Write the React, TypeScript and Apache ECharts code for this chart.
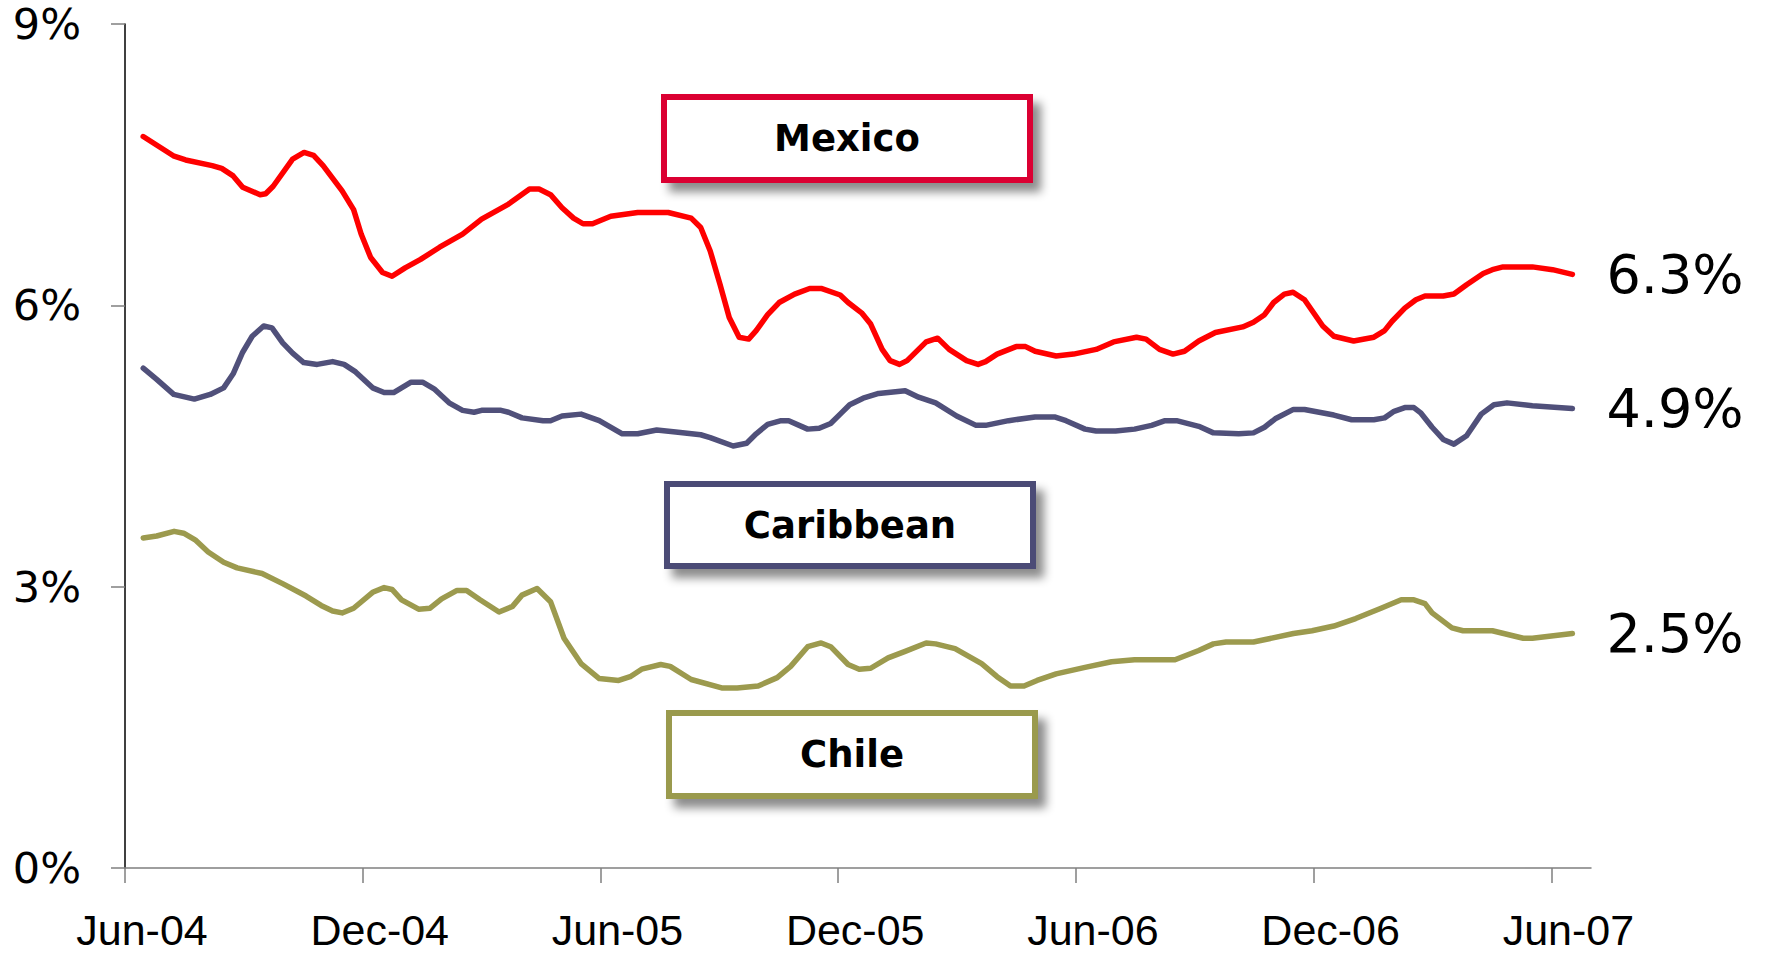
import React, { useEffect, useRef } from "react";
import * as echarts from "echarts";

// x positions are months since Jun-04
const xTickMonths = [0, 6, 12, 18, 24, 30, 36];
const xTickLabels = ["Jun-04", "Dec-04", "Jun-05", "Dec-05", "Jun-06", "Dec-06", "Jun-07"];
const yTicks = [0, 3, 6, 9];

const mexicoX = [0.46,1.24,1.53,2.2,2.44,2.73,2.97,3.41,3.55,3.74,4.23,4.52,4.76,5.0,5.48,5.77,5.96,6.2,6.5,6.74,7.07,7.46,7.94,8.52,9.0,9.68,10.21,10.45,10.74,11.03,11.32,11.56,11.8,12.26,12.94,13.71,14.29,14.53,14.77,15.02,15.25,15.5,15.74,15.93,16.22,16.51,16.9,17.28,17.57,18.05,18.25,18.59,18.82,19.11,19.31,19.55,19.74,20.22,20.51,20.8,21.24,21.53,21.72,22.01,22.49,22.73,22.97,23.5,23.94,24.51,24.95,25.53,25.77,26.11,26.45,26.74,27.1,27.52,28.21,28.48,28.76,28.99,29.26,29.48,29.77,30.23,30.51,31.01,31.52,31.79,31.98,32.3,32.58,32.81,33.27,33.54,33.86,34.28,34.51,34.78,35.52,36.03,36.53];
const mexicoY = [7.8,7.59,7.55,7.49,7.46,7.38,7.26,7.18,7.19,7.27,7.56,7.63,7.6,7.49,7.22,7.02,6.76,6.51,6.35,6.31,6.4,6.49,6.62,6.76,6.92,7.08,7.24,7.24,7.18,7.04,6.93,6.87,6.87,6.95,6.99,6.99,6.93,6.83,6.58,6.22,5.87,5.66,5.64,5.73,5.9,6.03,6.12,6.18,6.18,6.11,6.03,5.92,5.8,5.53,5.41,5.37,5.41,5.61,5.65,5.53,5.41,5.37,5.4,5.48,5.56,5.56,5.51,5.46,5.48,5.53,5.61,5.66,5.64,5.53,5.48,5.51,5.62,5.71,5.77,5.82,5.9,6.03,6.12,6.14,6.06,5.78,5.67,5.62,5.66,5.73,5.83,5.97,6.06,6.1,6.1,6.12,6.22,6.34,6.38,6.41,6.41,6.38,6.33];

const caribbeanX = [0.46,0.8,1.23,1.75,2.15,2.49,2.73,2.97,3.21,3.5,3.71,3.98,4.23,4.51,4.85,5.24,5.53,5.82,6.25,6.54,6.78,7.22,7.51,7.8,8.18,8.52,8.81,9.0,9.49,9.68,10.02,10.55,10.74,11.03,11.51,11.97,12.55,12.94,13.42,13.9,14.53,14.77,15.35,15.69,15.93,16.22,16.56,16.75,17.23,17.52,17.81,18.05,18.29,18.63,19.02,19.69,20.03,20.46,20.99,21.48,21.72,22.3,22.97,23.46,23.75,24.23,24.51,25.0,25.48,25.91,26.25,26.54,27.1,27.47,28.11,28.48,28.76,29.03,29.49,29.77,30.51,30.96,31.52,31.79,32.03,32.3,32.53,32.71,32.99,33.27,33.54,33.86,34.23,34.55,34.88,35.52,36.53];
const caribbeanY = [5.33,5.21,5.05,5.0,5.05,5.12,5.27,5.5,5.67,5.78,5.76,5.6,5.49,5.39,5.37,5.4,5.37,5.29,5.12,5.07,5.07,5.18,5.18,5.11,4.96,4.88,4.86,4.88,4.88,4.86,4.8,4.77,4.77,4.82,4.84,4.77,4.63,4.63,4.67,4.65,4.62,4.59,4.5,4.53,4.63,4.73,4.77,4.77,4.68,4.69,4.74,4.84,4.94,5.01,5.06,5.09,5.02,4.96,4.82,4.72,4.72,4.77,4.81,4.81,4.77,4.68,4.66,4.66,4.68,4.72,4.77,4.77,4.71,4.64,4.63,4.64,4.7,4.79,4.89,4.89,4.83,4.78,4.78,4.8,4.87,4.91,4.91,4.85,4.7,4.57,4.52,4.61,4.84,4.94,4.96,4.93,4.9];

const chileX = [0.46,0.8,1.24,1.48,1.77,2.1,2.49,2.83,3.46,3.99,4.57,4.95,5.24,5.48,5.77,6.25,6.54,6.74,6.98,7.41,7.7,7.99,8.38,8.62,8.96,9.44,9.78,10.02,10.4,10.74,11.08,11.51,11.97,12.46,12.75,13.04,13.52,13.76,14.29,15.06,15.45,15.98,16.46,16.8,17.23,17.57,17.81,18.25,18.53,18.82,19.26,19.69,20.22,20.46,20.95,21.62,22.01,22.35,22.69,23.02,23.5,24.23,24.9,25.48,26.5,27.1,27.47,27.79,28.48,29.49,29.96,30.51,31.06,31.7,32.21,32.53,32.81,32.99,33.49,33.77,34.51,35.29,35.52,36.53];
const chileY = [3.52,3.54,3.59,3.57,3.5,3.37,3.26,3.2,3.14,3.03,2.9,2.8,2.74,2.72,2.77,2.94,2.99,2.97,2.86,2.76,2.77,2.87,2.96,2.96,2.86,2.73,2.79,2.91,2.98,2.84,2.45,2.18,2.02,2.0,2.04,2.12,2.17,2.15,2.01,1.92,1.92,1.94,2.03,2.15,2.36,2.4,2.36,2.17,2.12,2.13,2.24,2.31,2.4,2.39,2.34,2.18,2.04,1.94,1.94,2.0,2.07,2.14,2.2,2.22,2.22,2.32,2.39,2.41,2.41,2.5,2.53,2.58,2.66,2.77,2.86,2.86,2.82,2.72,2.56,2.53,2.53,2.45,2.45,2.5];

const seriesNames = ["Mexico", "Caribbean", "Chile"];
const seriesColors = ["#FF0000", "#50507A", "#9C9A4E"];
const boxColors = ["#DB0030", "#4B4B76", "#9A9A4E"];

const zip = (xs: number[], ys: number[]) => xs.map((x, i) => [x, ys[i]]);

export default function App() {
  const ref = useRef<HTMLDivElement>(null);
  useEffect(() => {
    if (!ref.current) return;
    const chart = echarts.init(ref.current, undefined, { renderer: "svg" });
    const datas = [zip(mexicoX, mexicoY), zip(caribbeanX, caribbeanY), zip(chileX, chileY)];
    const boxes = [
      { x: 664, y: 97, w: 366, h: 83 },
      { x: 667, y: 484, w: 366, h: 82 },
      { x: 669, y: 713, w: 366, h: 83 },
    ];
    const graphics: any[] = [];
    boxes.forEach((b, i) => {
      graphics.push({
        type: "rect",
        shape: { x: b.x, y: b.y, width: b.w, height: b.h },
        style: {
          fill: "#FFFFFF",
          stroke: boxColors[i],
          lineWidth: 6,
          shadowBlur: 10,
          shadowOffsetX: 8,
          shadowOffsetY: 9,
          shadowColor: "rgba(0,0,0,0.45)",
        },
        z: 10,
      });
      graphics.push({
        type: "text",
        x: b.x + b.w / 2,
        y: b.y + b.h / 2,
        style: {
          text: seriesNames[i],
          fill: "#000",
          font: 'bold 37px "DejaVu Sans"',
          align: "center",
          verticalAlign: "middle",
          textAlign: "center",
          textVerticalAlign: "middle",
        },
        z: 11,
      });
    });
    chart.setOption({
      animation: false,
      backgroundColor: "#FFFFFF",
      grid: { left: 125, top: 24, right: 181, bottom: 88, containLabel: false },
      xAxis: {
        type: "value",
        min: 0,
        max: 37,
        interval: 6,
        splitLine: { show: false },
        axisLine: { show: true, lineStyle: { color: "#7F7F7F", width: 1.5 } },
        axisTick: {
          show: true,
          length: 15,
          inside: false,
          customValues: xTickMonths,
          lineStyle: { color: "#7F7F7F", width: 1.5 },
        },
        axisLabel: {
          customValues: xTickMonths,
          formatter: (v: number) => {
            const i = xTickMonths.indexOf(Math.round(v));
            return i >= 0 ? xTickLabels[i] : "";
          },
          fontFamily: "Liberation Sans",
          fontSize: 43,
          lineHeight: 36,
          color: "#000",
          margin: 44,
          padding: [0, 0, 0, 34],
        },
      },
      yAxis: {
        type: "value",
        min: 0,
        max: 9,
        interval: 3,
        splitLine: { show: false },
        axisLine: { show: true, lineStyle: { color: "#000", width: 1.5 } },
        axisTick: { show: true, length: 14, lineStyle: { color: "#7F7F7F", width: 1.5 } },
        axisLabel: {
          formatter: (v: number) => (yTicks.includes(v) ? v + "%" : ""),
          fontFamily: "DejaVu Sans",
          fontSize: 43,
          color: "#000",
          margin: 44,
          padding: [6, 0, 0, 0],
        },
      },
      series: datas.map((d, i) => ({
        type: "line",
        name: seriesNames[i],
        data: d,
        showSymbol: false,
        symbol: "none",
        smooth: false,
        lineStyle: { color: seriesColors[i], width: 5.5, cap: "round", join: "round" },
        endLabel: {
          show: true,
          formatter: (p: any) => p.value[1].toFixed(1) + "%",
          distance: 34,
          fontFamily: "DejaVu Sans",
          fontSize: 54,
          color: "#000",
        },
        z: 3,
      })),
      graphic: graphics,
    });
    return () => chart.dispose();
  }, []);
  return (
    <div
      ref={ref}
      style={{ position: "fixed", left: 0, top: 0, width: 1772, height: 956, background: "#fff" }}
    />
  );
}
